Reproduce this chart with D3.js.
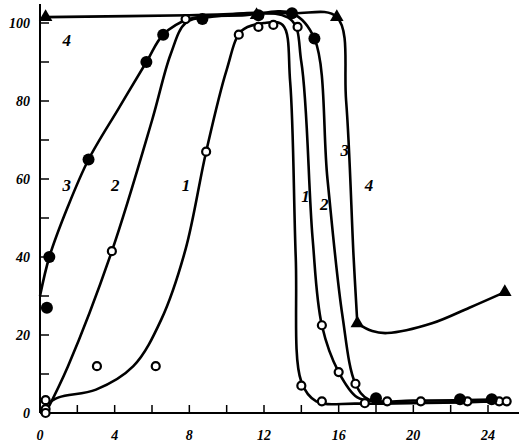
<!DOCTYPE html>
<html><head><meta charset="utf-8">
<script src="https://cdn.jsdelivr.net/npm/d3@7"></script>
<style>body{margin:0;background:#fff}</style>
</head><body>
<script>
// markers
var pts1 = [[0.3,3.3],[0.3,1],[3.05,12],[6.2,12],[8.9,67],[10.65,97],[11.7,99],[12.5,99.5],[14.0,7],[15.1,3]];
var pts2 = [[0.3,0],[3.85,41.5],[7.8,101],[13.8,99],[15.1,22.5],[16.0,10.5],[16.9,7.5],[17.4,2.5],[18.6,3],[20.4,3],[22.9,3],[24.6,3],[25.0,3]];
var pts3 = [[0.37,27],[0.5,40],[2.6,65],[5.7,90],[6.6,97],[8.7,101],[11.7,102],[13.5,102.5],[14.7,96],[18.0,3.8],[22.5,3.5],[24.2,3.5]];
var pts4 = [[0.3,101.5],[11.6,102],[15.9,101.5],[17.0,23],[24.9,31]];
// curve paths
var line1 = [[0.3,2],[1,4],[3,6],[5,12],[6.5,24],[7.8,42],[8.9,67],[10,88],[10.8,98],[12,100],[13,99.5],[13.4,85],[13.7,40],[14.0,8],[14.8,3],[17,2.4],[25,3]];
var line2 = [[0.3,0],[1.5,12],[3.85,41.5],[6,75],[7,92],[7.8,100],[9,101.5],[13.4,101],[14.0,90],[14.6,45],[15.1,22.5],[16,10.5],[17,4],[18,3],[25,3]];
var line3 = [[0,30],[0.5,40],[1.5,53],[2.6,65],[4.2,78],[5.7,90],[6.6,97],[8,101],[11,102],[13.5,102.5],[14.7,96],[15.4,60],[16.2,25],[16.9,7.5],[17.6,3.5],[20,3.2],[25,3.5]];
var line4a = [[0.3,101.5],[8,102],[13.5,102.5],[15.9,101.5],[16.4,80],[16.8,40],[17.0,23]];
var line4b = [[17.0,23],[17.8,21],[18.6,20.5],[21,23],[23,27],[24.9,31]];
var xTicks = [0,4,8,12,16,20,24];
var yTicks = [0,20,40,60,80,100];
var labels = [["4",1.2,94],["3",1.2,57],["2",3.8,57],["1",7.6,57],["1",14.0,54],["2",15.0,52],["3",16.1,66],["4",17.4,57]];

var W = 521, H = 445;
var svg = d3.select("body").append("svg").attr("width", W).attr("height", H);
var x = d3.scaleLinear().domain([0, 24]).range([40, 488]);
var y = d3.scaleLinear().domain([0, 100]).range([413, 23]);
var font = "'Liberation Serif', 'DejaVu Serif', serif";

// axes
svg.append("line").attr("x1", 40).attr("x2", 40).attr("y1", 4).attr("y2", 413).attr("stroke", "#000").attr("stroke-width", 2);
svg.append("line").attr("x1", 40).attr("x2", 519).attr("y1", 413).attr("y2", 413).attr("stroke", "#000").attr("stroke-width", 2);
svg.selectAll(".yt").data(d3.range(10, 101, 10)).enter().append("line")
    .attr("x1", 40).attr("x2", 49).attr("y1", function (d) { return y(d); }).attr("y2", function (d) { return y(d); })
    .attr("stroke", "#000").attr("stroke-width", 1.5);
svg.selectAll(".xt").data(d3.range(2, 25, 2)).enter().append("line")
    .attr("x1", function (d) { return x(d); }).attr("x2", function (d) { return x(d); }).attr("y1", 413).attr("y2", 405)
    .attr("stroke", "#000").attr("stroke-width", 1.5);
svg.selectAll(".xl").data(xTicks).enter().append("text")
    .attr("x", function (d) { return x(d); }).attr("y", 440).attr("text-anchor", "middle")
    .style("font-family", font).style("font-weight", "bold").style("font-style", "italic").style("font-size", "14px")
    .text(function (d) { return d; });
svg.selectAll(".yl").data(yTicks).enter().append("text")
    .attr("x", 30).attr("y", function (d) { return y(d) + 5; }).attr("text-anchor", "end")
    .style("font-family", font).style("font-weight", "bold").style("font-style", "italic").style("font-size", "14px")
    .text(function (d) { return d; });

// curves
var gen = d3.line().x(function (d) { return x(d[0]); }).y(function (d) { return y(d[1]); }).curve(d3.curveCatmullRom.alpha(0.5));
[line1, line2, line3, line4a, line4b].forEach(function (l) {
    svg.append("path").attr("d", gen(l)).attr("fill", "none").attr("stroke", "#000").attr("stroke-width", 2.6);
});

// markers
function openCircles(data) {
    svg.selectAll(null).data(data).enter().append("circle")
        .attr("cx", function (d) { return x(d[0]); }).attr("cy", function (d) { return y(d[1]); })
        .attr("r", 4).attr("fill", "#fff").attr("stroke", "#000").attr("stroke-width", 2.2);
}
openCircles(pts1);
openCircles(pts2);
svg.selectAll(null).data(pts3).enter().append("circle")
    .attr("cx", function (d) { return x(d[0]); }).attr("cy", function (d) { return y(d[1]); })
    .attr("r", 6).attr("fill", "#000");
svg.selectAll(null).data(pts4).enter().append("path")
    .attr("transform", function (d) { return "translate(" + x(d[0]) + "," + y(d[1]) + ")"; })
    .attr("d", d3.symbol().type(d3.symbolTriangle).size(80)).attr("fill", "#000");

// curve numbers
svg.selectAll(".lab").data(labels).enter().append("text")
    .attr("x", function (d) { return x(d[1]); }).attr("y", function (d) { return y(d[2]); })
    .style("font-family", font).style("font-weight", "bold").style("font-style", "italic").style("font-size", "17px")
    .text(function (d) { return d[0]; });
</script>
</body></html>
